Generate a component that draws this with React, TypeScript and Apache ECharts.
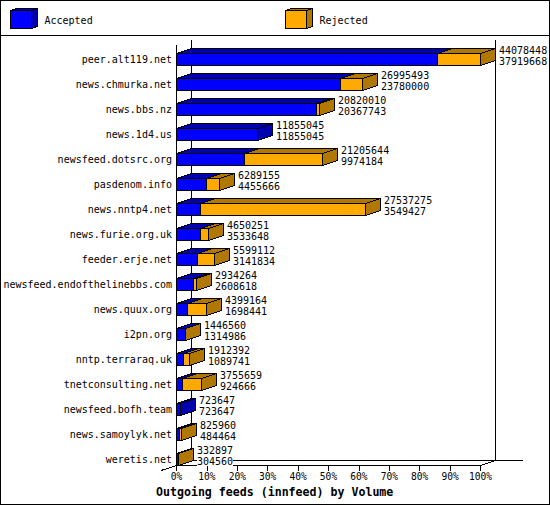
import React, { useEffect, useRef } from "react";
import * as echarts from "echarts";

const hosts = [
  "peer.alt119.net", "news.chmurka.net", "news.bbs.nz", "news.1d4.us", "newsfeed.dotsrc.org",
  "pasdenom.info", "news.nntp4.net", "news.furie.org.uk", "feeder.erje.net",
  "newsfeed.endofthelinebbs.com", "news.quux.org", "i2pn.org", "nntp.terraraq.uk",
  "tnetconsulting.net", "newsfeed.bofh.team", "news.samoylyk.net", "weretis.net",
];
const offered = [
  44078448, 26995493, 20820010, 11855045, 21205644, 6289155, 27537275, 4650251, 5599112,
  2934264, 4399164, 1446560, 1912392, 3755659, 723647, 825960, 332897,
];
const accepted = [
  37919668, 23780000, 20367743, 11855045, 9974184, 4455666, 3549427, 3533648, 3141834,
  2608618, 1698441, 1314986, 1089741, 924666, 723647, 484464, 304560,
];
const percentTicks = [0, 10, 20, 30, 40, 50, 60, 70, 80, 90, 100];

const BLUE = "#0000FF";
const BLUE_DARK = "#0000B0";
const ORANGE = "#FFAA00";
const ORANGE_DARK = "#B07800";
const MONO = '"DejaVu Sans Mono", monospace';

const DX = 15;
const DY = 5;
const HALF = 6;

const maxOffered = Math.max(...offered);
const pct = (v: number) => (v / maxOffered) * 100;
// Pixel-snap like the original bitmap: keeps the half-pixel of the axis origin.
const snap = (x: number) => Math.floor(x - 0.5 + 1e-6) + 0.5;

function box(x0: number, x1: number, cy: number, front: string, dark: string) {
  const t = cy - HALF;
  const b = cy + HALF;
  const stroke = { stroke: "#000", lineWidth: 1 };
  return [
    { type: "polygon", shape: { points: [[x0, t], [x0 + DX, t - DY], [x1 + DX, t - DY], [x1, t]] }, style: { fill: dark, ...stroke } },
    { type: "polygon", shape: { points: [[x1, t], [x1 + DX, t - DY], [x1 + DX, b - DY], [x1, b]] }, style: { fill: dark, ...stroke } },
    { type: "rect", shape: { x: x0, y: t, width: x1 - x0, height: b - t }, style: { fill: front, ...stroke } },
  ];
}

function legendBox(x: number, front: string, dark: string) {
  const stroke = { stroke: "#000", lineWidth: 1 };
  const l = x + 0.5, r = x + 21.5, t = 10.5, b = 28.5, dx = 6, dy = 2;
  return [
    { type: "polygon", shape: { points: [[l, t], [l + dx, t - dy], [r + dx, t - dy], [r, t]] }, style: { fill: dark, ...stroke } },
    { type: "polygon", shape: { points: [[r, t], [r + dx, t - dy], [r + dx, b - dy], [r, b]] }, style: { fill: dark, ...stroke } },
    { type: "rect", shape: { x: l, y: t, width: r - l, height: b - t }, style: { fill: front, ...stroke } },
  ];
}

function line(x1: number, y1: number, x2: number, y2: number) {
  return { type: "line", shape: { x1, y1, x2, y2 }, style: { stroke: "#000", lineWidth: 1 } };
}

export default function App() {
  const ref = useRef<HTMLDivElement>(null);

  useEffect(() => {
    document.body.style.margin = "0";
    document.body.style.background = "#fff";
    const chart = echarts.init(ref.current!, null, { renderer: "svg" });

    const option: any = {
      animation: false,
      backgroundColor: "#fff",
      title: {
        text: "Outgoing feeds (innfeed) by Volume",
        left: 156,
        top: 486,
        padding: 0,
        textStyle: { fontFamily: MONO, fontSize: 11.6, fontWeight: "bold", color: "#000" },
      },
      grid: { left: 176.5, width: 304, top: 47, height: 425, containLabel: false },
      xAxis: {
        type: "value",
        min: 0,
        max: 100,
        interval: 10,
        offset: -6.5,
        splitLine: { show: false },
        axisLine: { show: true, lineStyle: { color: "#000", width: 1 } },
        axisTick: { show: true, length: 5, lineStyle: { color: "#000", width: 1 } },
        axisLabel: {
          show: true,
          margin: 6,
          color: "#000",
          fontFamily: MONO,
          fontSize: 9.6,
          formatter: (v: number) => (percentTicks.includes(v) ? `${v}%` : ""),
        },
      },
      yAxis: {
        type: "category",
        inverse: true,
        data: hosts,
        axisLine: { show: false },
        axisTick: { show: false },
        splitLine: { show: false },
        axisLabel: { margin: 4.5, color: "#000", fontFamily: MONO, fontSize: 10, interval: 0 },
      },
      graphic: [
        {
          type: "group",
          silent: true,
          children: [
            { type: "rect", shape: { x: 0.5, y: 0.5, width: 549, height: 504 }, style: { fill: "none", stroke: "#000", lineWidth: 1 } },
            line(0, 35.5, 550, 35.5),
            line(176.5, 45, 176.5, 465.5),
            line(191.5, 40, 191.5, 460.5),
            line(495.5, 40, 495.5, 460.5),
            line(191.5, 460.5, 523, 460.5),
            line(161, 470.5, 176.5, 465.5),
            line(480.5, 465.5, 495.5, 460.5),
            ...legendBox(10, BLUE, BLUE_DARK),
            ...legendBox(285, ORANGE, ORANGE_DARK),
            { type: "text", style: { text: "Accepted", x: 44.5, y: 20, font: `10px ${MONO}`, fill: "#000", verticalAlign: "middle" } },
            { type: "text", style: { text: "Rejected", x: 319.5, y: 20, font: `10px ${MONO}`, fill: "#000", verticalAlign: "middle" } },
          ],
        },
      ],
      series: [
        {
          name: "Accepted",
          type: "custom",
          clip: false,
          encode: { x: 0, y: 1 },
          data: accepted.map((v, i) => [pct(v), i]),
          renderItem: (_p: any, api: any) => {
            const end = api.coord([api.value(0), api.value(1)]);
            const start = api.coord([0, api.value(1)]);
            return { type: "group", children: box(start[0], snap(end[0]), end[1], BLUE, BLUE_DARK) };
          },
        },
        {
          name: "Rejected",
          type: "custom",
          clip: false,
          encode: { x: [0, 1], y: 2 },
          data: accepted.map((v, i) => [pct(v), pct(offered[i]), i, offered[i], v]),
          renderItem: (_p: any, api: any) => {
            const a = api.coord([api.value(0), api.value(2)]);
            const o = api.coord([api.value(1), api.value(2)]);
            const cy = o[1];
            const endX = snap(o[0]);
            const labelX = endX + DX + 3.5;
            const children: any[] = api.value(3) > api.value(4) ? box(snap(a[0]), endX, cy, ORANGE, ORANGE_DARK) : [];
            [api.value(3), api.value(4)].forEach((v: number, k: number) => {
              children.push({
                type: "text",
                z2: 10,
                style: {
                  text: String(v),
                  x: labelX,
                  y: cy + (k === 0 ? -9.5 : 1.5),
                  font: `10px ${MONO}`,
                  fill: "#000",
                  verticalAlign: "middle",
                  backgroundColor: "#fff",
                },
              });
            });
            return { type: "group", children };
          },
        },
      ],
    };

    chart.setOption(option);
    return () => chart.dispose();
  }, []);

  return (
    <>
      <style>{`svg line, svg path, svg rect, svg polygon { shape-rendering: crispEdges; }`}</style>
      <div ref={ref} style={{ width: 550, height: 505 }} />
    </>
  );
}
